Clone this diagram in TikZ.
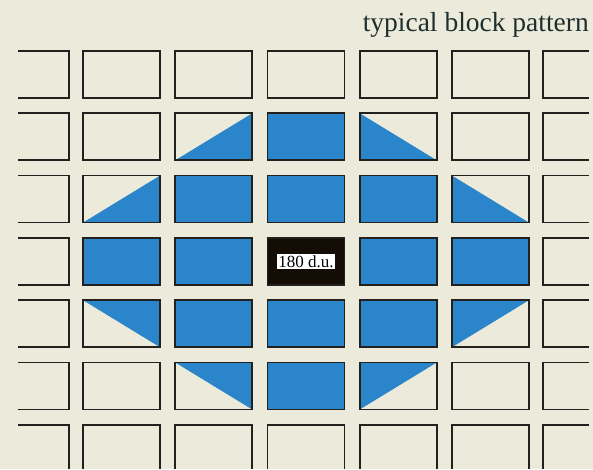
\documentclass[tikz,border=0pt]{standalone}
\usepackage{fontspec}
\setmainfont{Liberation Serif}
\definecolor{paper}{RGB}{236,234,218}
\definecolor{tileblue}{RGB}{42,133,203}
\definecolor{ink}{RGB}{35,33,30}
\begin{document}
\begin{tikzpicture}[x=1pt,y=1pt,
  edge/.style={draw=ink, line width=1.7pt, line join=miter},
  block/.style={rectangle, edge, minimum width=77pt, minimum height=47pt, inner sep=0pt, outer sep=0pt},
  ghost/.style={rectangle, draw=none, inner sep=0pt, outer sep=0pt},
  full/.style={block, fill=tileblue},
  darkblock/.style={block, fill=black!90!brown},
  lr/.style={block, path picture={\fill[tileblue] (path picture bounding box.south west) -- (path picture bounding box.north east) -- (path picture bounding box.south east) -- cycle;}},
  ll/.style={block, path picture={\fill[tileblue] (path picture bounding box.north west) -- (path picture bounding box.south east) -- (path picture bounding box.south west) -- cycle;}},
  ur/.style={block, path picture={\fill[tileblue] (path picture bounding box.north west) -- (path picture bounding box.north east) -- (path picture bounding box.south east) -- cycle;}},
  ul/.style={block, path picture={\fill[tileblue] (path picture bounding box.north west) -- (path picture bounding box.north east) -- (path picture bounding box.south west) -- cycle;}},
  tag/.style={fill=white, text=black, inner sep=1.8pt, font=\fontsize{17}{19}\selectfont}
]
\fill[paper] (0,0) rectangle (593,469);
\useasboundingbox (0,0) rectangle (593,469);

% title
\node[anchor=base east, inner sep=0pt, text=ink!85!teal, font=\fontsize{27.5}{32}\selectfont] (title) at (589,437) {typical block pattern};

\foreach \r/\c/\k in {
 0/1/block,0/2/block,0/3/block,0/4/block,0/5/block,
 1/1/block,1/2/lr,1/3/full,1/4/ll,1/5/block,
 2/1/lr,2/2/full,2/3/full,2/4/full,2/5/ll,
 3/1/full,3/2/full,3/3/darkblock,3/4/full,3/5/full,
 4/1/ur,4/2/full,4/3/full,4/4/full,4/5/ul,
 5/1/block,5/2/ur,5/3/full,5/4/ul,5/5/block}{
  \pgfmathsetmacro\cx{83+92.25*(\c-1)+38.5}
  \pgfmathsetmacro\cy{469-(51+62.3*\r+23.5)}
  \node[\k] (b\r\c) at (\cx,\cy) {};
}
\node[tag] (label) at (b33) {180 d.u.};

% partial blocks on the left and right edges
\foreach \r in {0,...,5}{
  \pgfmathsetmacro\cy{469-(51+62.3*\r+23.5)}
  \node[ghost, minimum width=51pt, minimum height=47pt] (l\r) at (43.5,\cy) {};
  \node[ghost, minimum width=46pt, minimum height=47pt] (r\r) at (566,\cy) {};
  \draw[edge] (l\r.north west) -- (l\r.north east) -- (l\r.south east) -- (l\r.south west);
  \draw[edge] (r\r.north east) -- (r\r.north west) -- (r\r.south west) -- (r\r.south east);
}

% bottom row, cut off by the lower edge
\node[ghost, minimum width=51pt, minimum height=44.2pt] (l6) at (43.5,22.1) {};
\draw[edge] (l6.north west) -- (l6.north east) -- (l6.south east);
\foreach \c in {1,...,5}{
  \pgfmathsetmacro\cx{83+92.25*(\c-1)+38.5}
  \node[ghost, minimum width=77pt, minimum height=44.2pt] (b6\c) at (\cx,22.1) {};
  \draw[edge] (b6\c.south west) -- (b6\c.north west) -- (b6\c.north east) -- (b6\c.south east);
}
\node[ghost, minimum width=46pt, minimum height=44.2pt] (r6) at (566,22.1) {};
\draw[edge] (r6.north east) -- (r6.north west) -- (r6.south west);
\end{tikzpicture}
\end{document}
